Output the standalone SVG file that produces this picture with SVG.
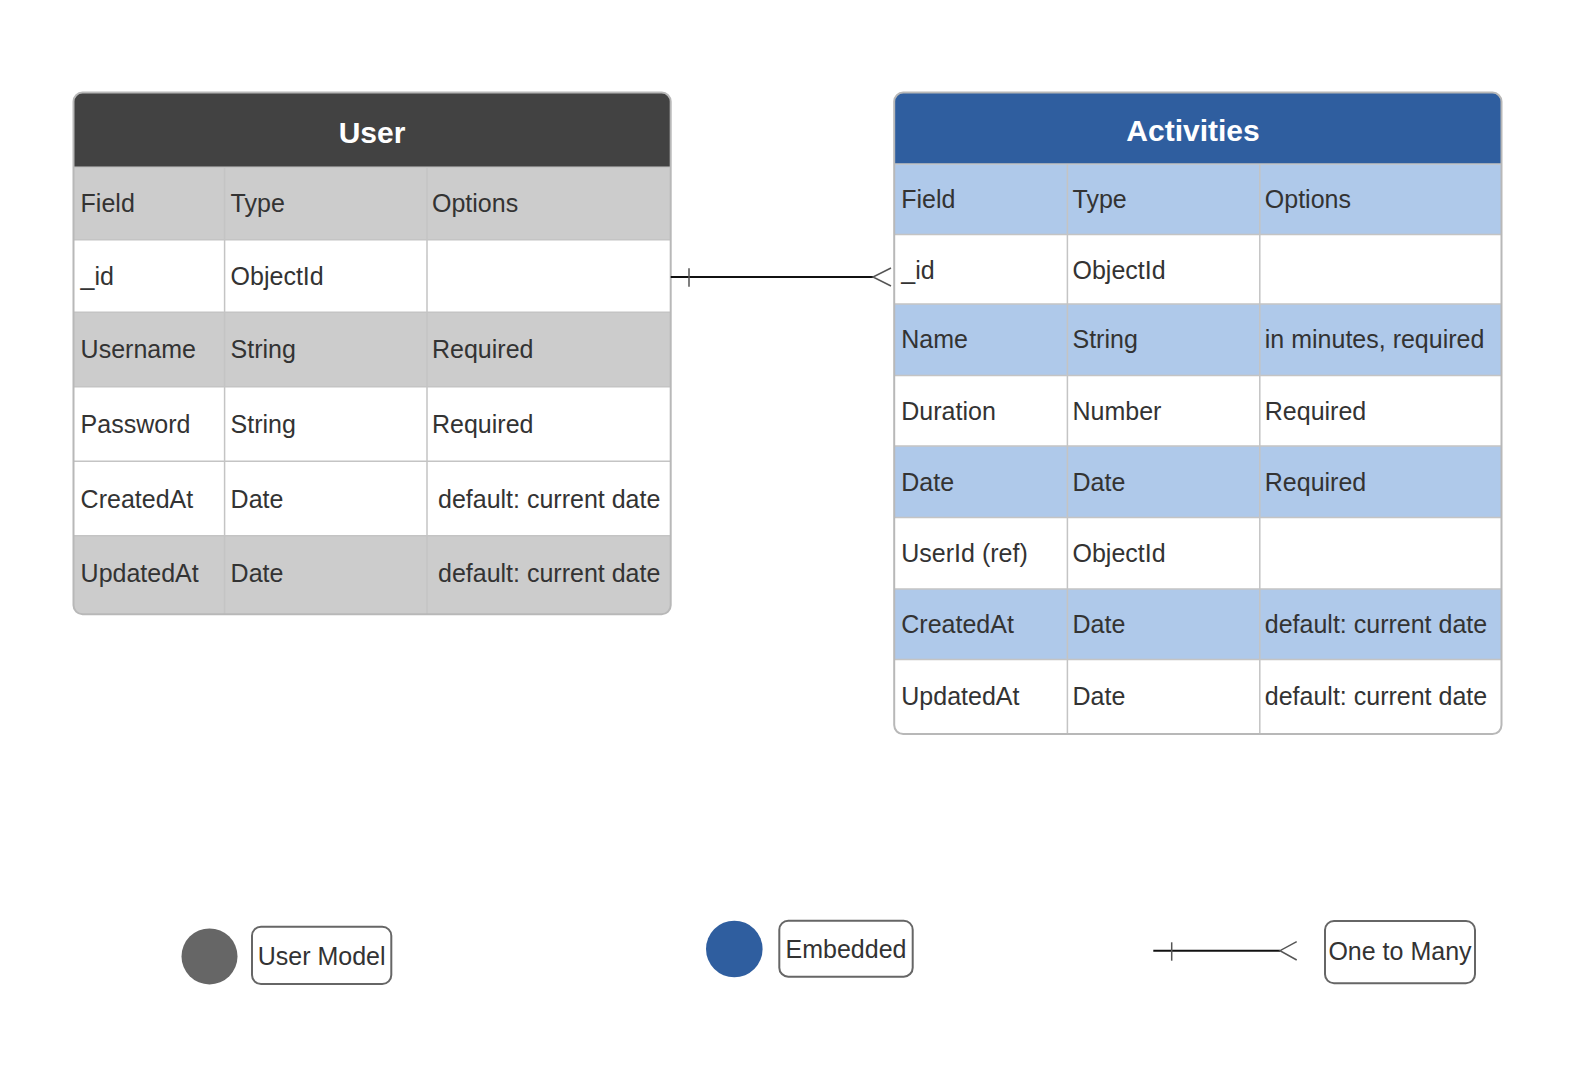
<svg xmlns="http://www.w3.org/2000/svg" width="1579" height="1073" viewBox="0 0 1579 1073">
<style>
.t{font-family:"Liberation Sans",Arial,sans-serif;font-size:25px;fill:#333333}
.h{font-family:"Liberation Sans",Arial,sans-serif;font-size:30px;font-weight:bold;fill:#ffffff}
.grid{stroke:#c4c4c4;stroke-width:1.5;fill:none}
.border{fill:none;stroke:#b8b8b8;stroke-width:2}
.conn{stroke:#111111;stroke-width:2;fill:none}
.tick{stroke:#555555;stroke-width:1.5;fill:none}
.lbox{fill:#ffffff;stroke:#666666;stroke-width:2}
</style>
<defs>
<clipPath id="cu"><rect x="73.5" y="92.6" width="597.2" height="521.7" rx="9"/></clipPath>
<clipPath id="ca"><rect x="894.2" y="92.6" width="607.3" height="641.5" rx="9"/></clipPath>
</defs>
<rect width="1579" height="1073" fill="#ffffff"/>

<g id="user">
<g clip-path="url(#cu)">
<rect x="73.5" y="92.6" width="597.2" height="74.6" fill="#424242"/>
<rect x="73.5" y="167.2" width="597.2" height="72.5" fill="#cccccc"/>
<rect x="73.5" y="239.7" width="597.2" height="72.5" fill="#ffffff"/>
<rect x="73.5" y="312.2" width="597.2" height="74.5" fill="#cccccc"/>
<rect x="73.5" y="386.7" width="597.2" height="74.5" fill="#ffffff"/>
<rect x="73.5" y="461.2" width="597.2" height="74.5" fill="#ffffff"/>
<rect x="73.5" y="535.7" width="597.2" height="78.6" fill="#cccccc"/>
<path class="grid" d="M73.5 167.2H670.7M73.5 239.7H670.7M73.5 312.2H670.7M73.5 386.7H670.7M73.5 461.2H670.7M73.5 535.7H670.7M224.6 167.2V614.3M427 167.2V614.3"/>
</g>
<rect class="border" x="73.5" y="92.6" width="597.2" height="521.7" rx="9"/>
<text class="h" x="372" y="142.5" text-anchor="middle">User</text>
<text class="t" x="80.6" y="212.4">Field</text>
<text class="t" x="230.6" y="212.4">Type</text>
<text class="t" x="432" y="212.4">Options</text>
<text class="t" x="80.6" y="284.9">_id</text>
<text class="t" x="230.6" y="284.9">ObjectId</text>
<text class="t" x="80.6" y="358.4">Username</text>
<text class="t" x="230.6" y="358.4">String</text>
<text class="t" x="432" y="358.4">Required</text>
<text class="t" x="80.6" y="433">Password</text>
<text class="t" x="230.6" y="433">String</text>
<text class="t" x="432" y="433">Required</text>
<text class="t" x="80.6" y="507.5">CreatedAt</text>
<text class="t" x="230.6" y="507.5">Date</text>
<text class="t" x="438" y="507.5">default: current date</text>
<text class="t" x="80.6" y="582">UpdatedAt</text>
<text class="t" x="230.6" y="582">Date</text>
<text class="t" x="438" y="582">default: current date</text>
</g>

<g id="activities">
<g clip-path="url(#ca)">
<rect x="894.2" y="92.6" width="607.3" height="71.5" fill="#2f5e9f"/>
<rect x="894.2" y="164.1" width="607.3" height="70.5" fill="#afc9ea"/>
<rect x="894.2" y="234.6" width="607.3" height="69.5" fill="#ffffff"/>
<rect x="894.2" y="304.1" width="607.3" height="71.5" fill="#afc9ea"/>
<rect x="894.2" y="375.6" width="607.3" height="70.5" fill="#ffffff"/>
<rect x="894.2" y="446.1" width="607.3" height="71.5" fill="#afc9ea"/>
<rect x="894.2" y="517.6" width="607.3" height="71.5" fill="#ffffff"/>
<rect x="894.2" y="589.1" width="607.3" height="70.5" fill="#afc9ea"/>
<rect x="894.2" y="659.6" width="607.3" height="74.5" fill="#ffffff"/>
<path class="grid" d="M894.2 164.1H1501.5M894.2 234.6H1501.5M894.2 304.1H1501.5M894.2 375.6H1501.5M894.2 446.1H1501.5M894.2 517.6H1501.5M894.2 589.1H1501.5M894.2 659.6H1501.5M1067.4 164.1V734.1M1259.8 164.1V734.1"/>
</g>
<rect class="border" x="894.2" y="92.6" width="607.3" height="641.5" rx="9"/>
<text class="h" x="1193" y="140.5" text-anchor="middle">Activities</text>
<text class="t" x="901.3" y="208.4">Field</text>
<text class="t" x="1072.5" y="208.4">Type</text>
<text class="t" x="1264.8" y="208.4">Options</text>
<text class="t" x="901.3" y="278.9">_id</text>
<text class="t" x="1072.5" y="278.9">ObjectId</text>
<text class="t" x="901.3" y="348.4">Name</text>
<text class="t" x="1072.5" y="348.4">String</text>
<text class="t" x="1264.8" y="348.4">in minutes, required</text>
<text class="t" x="901.3" y="419.9">Duration</text>
<text class="t" x="1072.5" y="419.9">Number</text>
<text class="t" x="1264.8" y="419.9">Required</text>
<text class="t" x="901.3" y="491.4">Date</text>
<text class="t" x="1072.5" y="491.4">Date</text>
<text class="t" x="1264.8" y="491.4">Required</text>
<text class="t" x="901.3" y="561.9">UserId (ref)</text>
<text class="t" x="1072.5" y="561.9">ObjectId</text>
<text class="t" x="901.3" y="633.4">CreatedAt</text>
<text class="t" x="1072.5" y="633.4">Date</text>
<text class="t" x="1264.8" y="633.4">default: current date</text>
<text class="t" x="901.3" y="704.8">UpdatedAt</text>
<text class="t" x="1072.5" y="704.8">Date</text>
<text class="t" x="1264.8" y="704.8">default: current date</text>
</g>

<g id="connectors">
<path class="conn" d="M670.7 277H873"/>
<path class="tick" d="M689 268.3V286.7"/>
<path class="tick" d="M891 268L873 277L891 286"/>
</g>

<g id="legend-user">
<circle cx="209.5" cy="956.4" r="28" fill="#666666"/>
<rect class="lbox" x="252" y="926.7" width="139.3" height="57.3" rx="9"/>
<text class="t" x="321.6" y="964.5" text-anchor="middle">User Model</text>
</g>
<g id="legend-embedded">
<circle cx="734.3" cy="949" r="28.3" fill="#2f5e9f"/>
<rect class="lbox" x="779.3" y="920.7" width="133.4" height="56" rx="9"/>
<text class="t" x="846" y="957.5" text-anchor="middle">Embedded</text>
</g>
<g id="legend-onetomany">
<path class="conn" d="M1153.3 950.7H1280"/>
<path class="tick" d="M1171.7 942.3V960.7"/>
<path class="tick" d="M1296.7 941.7L1280 950.7L1296.7 960"/>
<rect class="lbox" x="1325" y="921" width="150" height="62.3" rx="9"/>
<text class="t" x="1400" y="959.5" text-anchor="middle">One to Many</text>
</g>
</svg>
